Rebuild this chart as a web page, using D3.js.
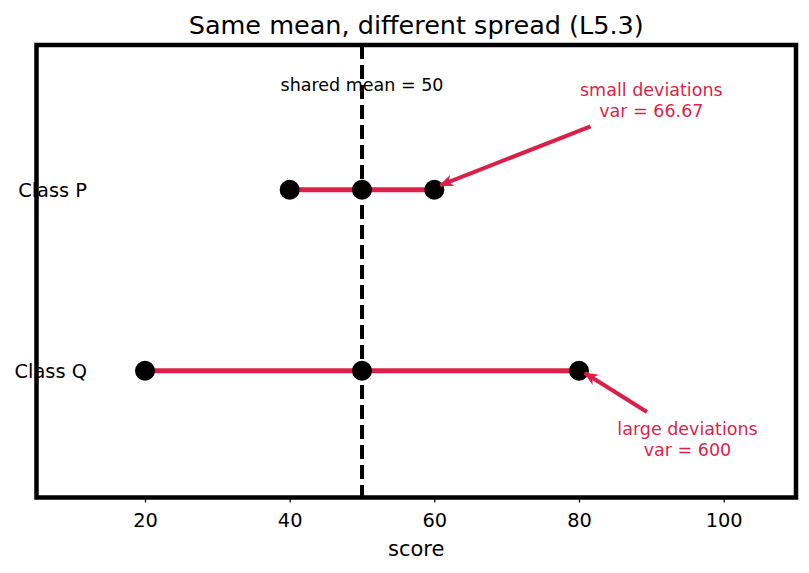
<!DOCTYPE html>
<html>
<head>
<meta charset="utf-8">
<script src="https://cdn.jsdelivr.net/npm/d3@7"></script>
<style>
  body { margin: 0; background: #fff; }
  text { font-family: "DejaVu Sans", sans-serif; }
</style>
</head>
<body>
<svg id="chart"></svg>
<script>
// data
let classes = ["Class Q", "Class P"];
let classPos = [0, 1];
let scoresP = [40, 50, 60];
let scoresQ = [20, 50, 80];
let sharedMean = 50;
let xTicks = [20, 40, 60, 80, 100];
let noteLines = [["small deviations", "var = 66.67"], ["large deviations", "var = 600"]];
let noteText = [[90, 1.49], [95, -0.385]];
let noteTail = [[81.6, 1.35], [89.4, -0.228]];
let noteTip = [[60.8, 1.025], [80.8, -0.012]];

function drawChart() {
    let w = 809, h = 573;
    let m = { top: 45, right: 13, bottom: 75.5, left: 36.5 };
    let red = "#dc1f48";

    let svg = d3.select("#chart").attr("width", w).attr("height", h);

    let x = d3.scaleLinear().domain([5, 110]).range([m.left, w - m.right]);
    let y = d3.scaleLinear().domain([-0.7, 1.8]).range([h - m.bottom, m.top]);

    svg.append("defs").append("marker")
        .attr("id", "arrow")
        .attr("viewBox", "0 0 14 12")
        .attr("refX", 13).attr("refY", 6)
        .attr("markerWidth", 14).attr("markerHeight", 12)
        .attr("markerUnits", "userSpaceOnUse")
        .attr("orient", "auto")
        .append("path")
        .attr("d", "M0,0 L14,6 L0,12 L4,6 Z")
        .attr("fill", red);

    // title
    svg.append("text")
        .attr("x", (m.left + w - m.right) / 2).attr("y", 34)
        .attr("text-anchor", "middle")
        .style("font-size", "25.5px")
        .text("Same mean, different spread (L5.3)");

    // y labels
    svg.selectAll(".ylab")
        .data(classes)
        .enter().append("text")
        .attr("x", 87)
        .attr("y", (d, i) => y(classPos[i]))
        .attr("dy", "0.36em")
        .attr("text-anchor", "end")
        .style("font-size", "19.4px")
        .text(d => d);

    // x axis
    let xAxis = svg.append("g")
        .attr("transform", `translate(0,${h - m.bottom})`)
        .call(d3.axisBottom(x).tickValues(xTicks).tickSize(5).tickPadding(11));
    xAxis.select(".domain").remove();
    xAxis.selectAll("text").style("font-size", "19.4px").style("font-family", "DejaVu Sans, sans-serif");
    xAxis.selectAll("line").attr("stroke-width", 1.2);

    svg.append("text")
        .attr("x", (m.left + w - m.right) / 2).attr("y", 556)
        .attr("text-anchor", "middle")
        .style("font-size", "21px")
        .text("score");

    // mean line
    svg.append("line")
        .attr("x1", x(sharedMean)).attr("x2", x(sharedMean))
        .attr("y1", m.top).attr("y2", h - m.bottom)
        .attr("stroke", "#000").attr("stroke-width", 4)
        .attr("stroke-dasharray", "14,6");

    svg.append("text")
        .attr("x", x(sharedMean)).attr("y", 91)
        .attr("text-anchor", "middle")
        .style("font-size", "17.5px")
        .text("shared mean = " + sharedMean);

    // ranges and points
    let rows = [{ pos: 1, vals: scoresP }, { pos: 0, vals: scoresQ }];
    rows.forEach(r => {
        svg.append("line")
            .attr("x1", x(d3.min(r.vals))).attr("x2", x(d3.max(r.vals)))
            .attr("y1", y(r.pos)).attr("y2", y(r.pos))
            .attr("stroke", red).attr("stroke-width", 5);
        svg.selectAll(null)
            .data(r.vals)
            .enter().append("circle")
            .attr("cx", d => x(d))
            .attr("cy", y(r.pos))
            .attr("r", 10)
            .attr("fill", "#000");
    });

    // annotations
    noteLines.forEach((lines, i) => {
        let t = svg.append("text")
            .attr("text-anchor", "middle")
            .style("font-size", "17.5px")
            .attr("fill", red);
        lines.forEach((s, j) => {
            t.append("tspan")
                .attr("x", x(noteText[i][0]))
                .attr("y", y(noteText[i][1]) + (j - 0.5) * 21 + 5)
                .text(s);
        });
        svg.append("line")
            .attr("x1", x(noteTail[i][0])).attr("y1", y(noteTail[i][1]))
            .attr("x2", x(noteTip[i][0])).attr("y2", y(noteTip[i][1]))
            .attr("stroke", red).attr("stroke-width", 4)
            .attr("marker-end", "url(#arrow)");
    });

    // frame
    svg.append("rect")
        .attr("x", m.left).attr("y", m.top)
        .attr("width", w - m.left - m.right)
        .attr("height", h - m.top - m.bottom)
        .attr("fill", "none")
        .attr("stroke", "#000").attr("stroke-width", 4.5);
}

window.onload = function () {
    drawChart();
};
</script>
</body>
</html>
